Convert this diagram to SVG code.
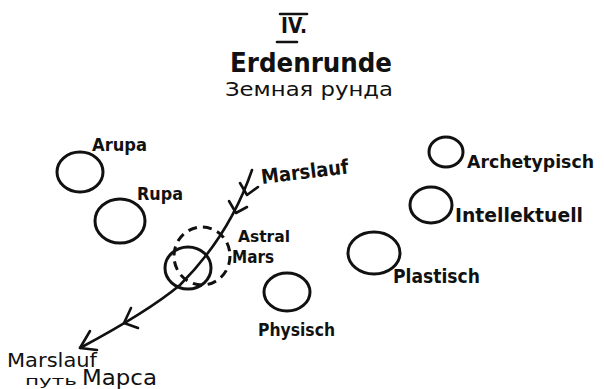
<svg xmlns="http://www.w3.org/2000/svg" width="604" height="389" viewBox="0 0 604 389">
<style>
.c{fill:none;stroke:#111;stroke-width:3}
.d{fill:none;stroke:#111;stroke-width:3;stroke-dasharray:9 6}
.l{fill:none;stroke:#111;stroke-width:2.6;stroke-linecap:round;stroke-linejoin:round}
text{font-family:"DejaVu Sans","Liberation Sans",sans-serif;font-weight:bold;fill:#111}
text.n{font-weight:normal}
</style>
<rect width="604" height="389" fill="#fff"/>
<g id="title">
<line x1="280" y1="14" x2="307" y2="14" class="l"/>
<text x="281" y="33" font-size="21" textLength="26" lengthAdjust="spacingAndGlyphs">IV.</text>
<line x1="277" y1="42" x2="297" y2="42" class="l"/>
<text x="230" y="72" font-size="26" textLength="162" lengthAdjust="spacingAndGlyphs">Erdenrunde</text>
<text class="n" x="225" y="96" font-size="20" textLength="168" lengthAdjust="spacingAndGlyphs">Земная рунда</text>
</g>
<g id="arupa">
<ellipse cx="80" cy="172" rx="23" ry="20" class="c"/>
<text x="92" y="151" font-size="18" textLength="55" lengthAdjust="spacingAndGlyphs">Arupa</text>
</g>
<g id="rupa">
<ellipse cx="120" cy="221" rx="25" ry="22" class="c"/>
<text x="137" y="200" font-size="18" textLength="46" lengthAdjust="spacingAndGlyphs">Rupa</text>
</g>
<g id="mars">
<ellipse cx="202" cy="256" rx="28" ry="29" class="d"/>
<ellipse cx="188" cy="268" rx="23" ry="21" class="c"/>
<text x="238" y="242" font-size="16" textLength="52" lengthAdjust="spacingAndGlyphs">Astral</text>
<text x="232" y="263" font-size="17" textLength="42" lengthAdjust="spacingAndGlyphs">Mars</text>
</g>
<g id="physisch">
<ellipse cx="287" cy="292" rx="23" ry="19" class="c"/>
<text x="258" y="336" font-size="18" textLength="77" lengthAdjust="spacingAndGlyphs">Physisch</text>
</g>
<g id="plastisch">
<ellipse cx="374" cy="253" rx="26" ry="21" class="c"/>
<text x="393" y="283" font-size="19" textLength="87" lengthAdjust="spacingAndGlyphs">Plastisch</text>
</g>
<g id="intellektuell">
<ellipse cx="431" cy="205" rx="21" ry="18" class="c"/>
<text x="455" y="222" font-size="19" textLength="128" lengthAdjust="spacingAndGlyphs">Intellektuell</text>
</g>
<g id="archetypisch">
<ellipse cx="446" cy="152" rx="17" ry="15" class="c"/>
<text x="467" y="168" font-size="17" textLength="127" lengthAdjust="spacingAndGlyphs">Archetypisch</text>
</g>
<g id="connectors">
<path d="M252,170 C240,205 220,245 180,285 C150,310 110,332 80,348" class="l"/>
<path d="M240,183 L247,195 L258,187" class="l"/>
<path d="M229,201 L236,213 L247,207" class="l"/>
<path d="M131,308 L124,323 L138,328" class="l"/>
<path d="M90,331 L80,348 L97,350" class="l"/>
</g>
<g id="marslauf-top">
<text x="262" y="184" font-size="20" textLength="88" lengthAdjust="spacingAndGlyphs" transform="rotate(-7 262 184)">Marslauf</text>
</g>
<g id="marslauf-bottom">
<text class="n" x="7" y="367" font-size="19" textLength="90" lengthAdjust="spacingAndGlyphs">Marslauf</text>
<text class="n" x="25" y="385" font-size="13" textLength="52" lengthAdjust="spacingAndGlyphs">путь</text>
<text class="n" x="82" y="385" font-size="22" textLength="75" lengthAdjust="spacingAndGlyphs">Марса</text>
</g>
</svg>
